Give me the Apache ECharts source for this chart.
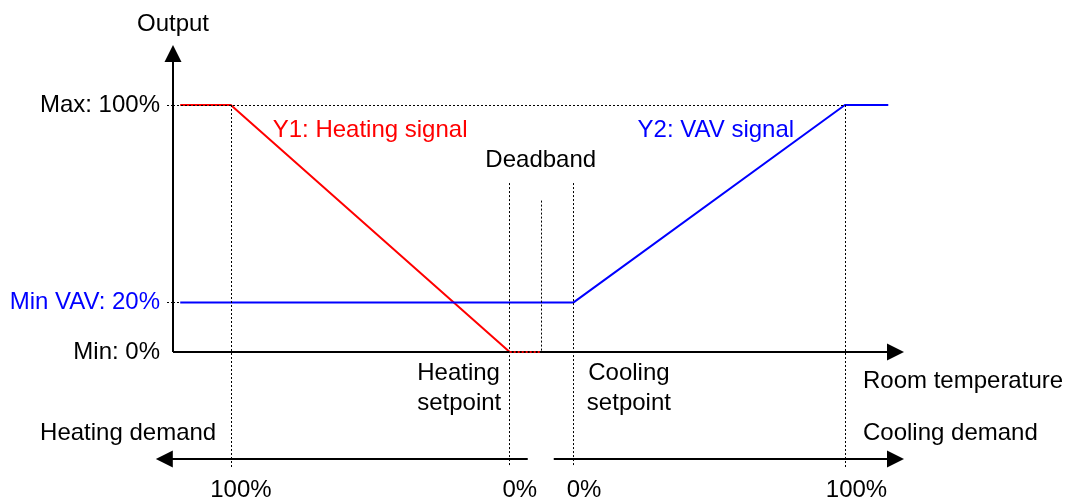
<!DOCTYPE html>
<html>
<head>
<meta charset="utf-8">
<title>Heating / VAV output vs room temperature</title>
<style>
  html, body { margin: 0; padding: 0; background: #fff; }
  #chart { width: 1066px; height: 499px; }
</style>
<script src="https://cdn.jsdelivr.net/npm/echarts@6/dist/echarts.min.js"></script>
</head>
<body>
<div id="chart"></div>
<script>
// output levels, %
const outMax = 100;
const outMinVav = 20;
const outMin = 0;

// room temperature positions along the x axis (arbitrary units, 0 = output axis)
const tStart = 1;
const tHeatFull = 8;
const tHeatSp = 46.6;
const tDeadEnd = 51;
const tCoolSp = 55.4;
const tCoolFull = 93;
const tEnd = 99;

// Y1 heating signal
const heatX = [tStart, tHeatFull, tHeatSp];
const heatY = [outMax, outMax, outMin];
const heatDeadX = [tHeatSp, tDeadEnd];
const heatDeadY = [outMin, outMin];

// Y2 VAV signal
const vavX = [tStart, tCoolSp, tCoolFull, tEnd];
const vavY = [outMinVav, outMinVav, outMax, outMax];

// y axis ticks
const yTickValues = [outMin, outMinVav, outMax];
const yTickLabels = ['Min: 0%', 'Min VAV: 20%', 'Max: 100%'];

// demand scale labels under the chart
const demandLabels = ['100%', '0%', '0%', '100%'];
const demandLabelX = [9.4, 48, 56.9, 94.6];

const FONT = '"Liberation Sans", Arial, sans-serif';
const zip = (xs, ys) => xs.map((x, i) => [x, ys[i]]);

// layout helpers (data units)
const X_MIN = -4, X_MAX = 102, Y_MIN = -48, Y_MAX = 124;
const xArrowEnd = 100;
const yArrowEnd = 120.8;
const demandY = -43.3;
const guideBottom = -46.5;

const GRID_LEFT = 144.1;
const X_PX_PER_UNIT = 7.225;

const seg = (x1, y1, x2, y2) => [{ coord: [x1, y1] }, { coord: [x2, y2] }];

const notes = [
  { text: 'Output', x: 0, y: 132.8, align: 'center' },
  { text: 'Y1: Heating signal', x: 13.8, y: 89.9, align: 'left', color: '#ff0000' },
  { text: 'Y2: VAV signal', x: 64.3, y: 89.9, align: 'left', color: '#0000ff' },
  { text: 'Deadband', x: 50.9, y: 77.7, align: 'center' },
  { text: 'Heating\nsetpoint', x: 33.8, y: -14.7, align: 'left' },
  { text: 'Cooling\nsetpoint', x: 63.1, y: -14.7, align: 'center' },
  { text: 'Room temperature', x: 95.5, y: -12.0, align: 'left' },
  { text: 'Heating demand', x: -18.4, y: -32.8, align: 'left' },
  { text: 'Cooling demand', x: 95.5, y: -33.0, align: 'left' },
  ...demandLabels.map((t, i) => ({ text: t, x: demandLabelX[i], y: -56.2, align: 'center' }))
];

const chart = echarts.init(document.getElementById('chart'), null, { renderer: 'canvas' });

chart.setOption({
  animation: false,
  backgroundColor: '#fff',
  textStyle: { fontFamily: FONT },
  grid: {
    left: GRID_LEFT,
    right: 156.05,
    top: 45.7,
    bottom: 28.4,
    containLabel: false,
    outerBoundsMode: 'none'
  },
  xAxis: {
    type: 'value',
    min: X_MIN,
    max: X_MAX,
    axisLine: { show: false },
    axisTick: { show: false },
    axisLabel: { show: false },
    splitLine: { show: false }
  },
  yAxis: {
    type: 'value',
    min: Y_MIN,
    max: Y_MAX,
    // shift the (hidden) axis onto x = 0 so ticks and labels sit on the drawn output axis
    offset: X_MIN * X_PX_PER_UNIT,
    axisLine: { show: false, onZero: false },
    axisTick: {
      show: true,
      customValues: [outMinVav, outMax],
      length: 8,
      lineStyle: { color: '#000', width: 1, type: [2, 2] }
    },
    axisLabel: {
      customValues: yTickValues,
      margin: 13,
      fontSize: 24,
      color: '#000',
      fontFamily: FONT,
      formatter: (v) => {
        const i = yTickValues.indexOf(v);
        if (i < 0) return '';
        return v === outMinVav ? '{b|' + yTickLabels[i] + '}' : yTickLabels[i];
      },
      rich: { b: { color: '#0000ff', fontSize: 24, fontFamily: FONT } }
    },
    splitLine: { show: false }
  },
  series: [
    {
      name: 'guides',
      type: 'line',
      data: [],
      silent: true,
      z: 1,
      markLine: {
        silent: true,
        animation: false,
        symbol: ['none', 'none'],
        label: { show: false },
        lineStyle: { color: '#000', width: 1, type: [2, 2] },
        emphasis: { disabled: true },
        data: [
          seg(0, outMax, tCoolFull, outMax),
          seg(0, outMinVav, tStart, outMinVav),
          seg(tHeatFull, outMax, tHeatFull, guideBottom),
          seg(tHeatSp, 68.4, tHeatSp, guideBottom),
          seg(tDeadEnd, 61.3, tDeadEnd, outMin),
          seg(tCoolSp, 68.4, tCoolSp, guideBottom),
          seg(tCoolFull, outMax, tCoolFull, guideBottom)
        ]
      }
    },
    {
      name: 'Y1: Heating signal',
      type: 'line',
      data: zip(heatX, heatY),
      symbol: 'none',
      silent: true,
      z: 3,
      lineStyle: { color: '#ff0000', width: 2 }
    },
    {
      name: 'Y2: VAV signal',
      type: 'line',
      data: zip(vavX, vavY),
      symbol: 'none',
      silent: true,
      z: 3,
      lineStyle: { color: '#0000ff', width: 2 }
    },
    {
      name: 'axes',
      type: 'line',
      data: [],
      silent: true,
      z: 4,
      markLine: {
        silent: true,
        animation: false,
        symbol: ['none', 'triangle'],
        symbolSize: 17,
        label: { show: false },
        lineStyle: { color: '#000', width: 2, type: 'solid' },
        itemStyle: { color: '#000' },
        emphasis: { disabled: true },
        data: [
          seg(0, 0, xArrowEnd, 0),
          seg(0, 0, 0, yArrowEnd),
          seg(49.1, demandY, -1.2, demandY),
          seg(52.7, demandY, xArrowEnd, demandY)
        ]
      }
    },
    {
      name: 'Y1 deadband',
      type: 'line',
      data: zip(heatDeadX, heatDeadY),
      symbol: 'none',
      silent: true,
      z: 5,
      lineStyle: { color: '#ff0000', width: 2, type: [2, 2] }
    },
    {
      name: 'notes',
      type: 'scatter',
      silent: true,
      clip: false,
      symbolSize: 1,
      itemStyle: { color: 'rgba(0,0,0,0)', opacity: 1 },
      z: 6,
      data: notes.map((n) => ({
        value: [n.x, n.y],
        label: {
          show: true,
          position: 'inside',
          formatter: n.text,
          align: n.align,
          verticalAlign: 'middle',
          color: n.color || '#000',
          opacity: 1,
          textBorderWidth: 0,
          fontSize: 24,
          lineHeight: 30,
          fontFamily: FONT
        }
      }))
    }
  ]
});
</script>
</body>
</html>
